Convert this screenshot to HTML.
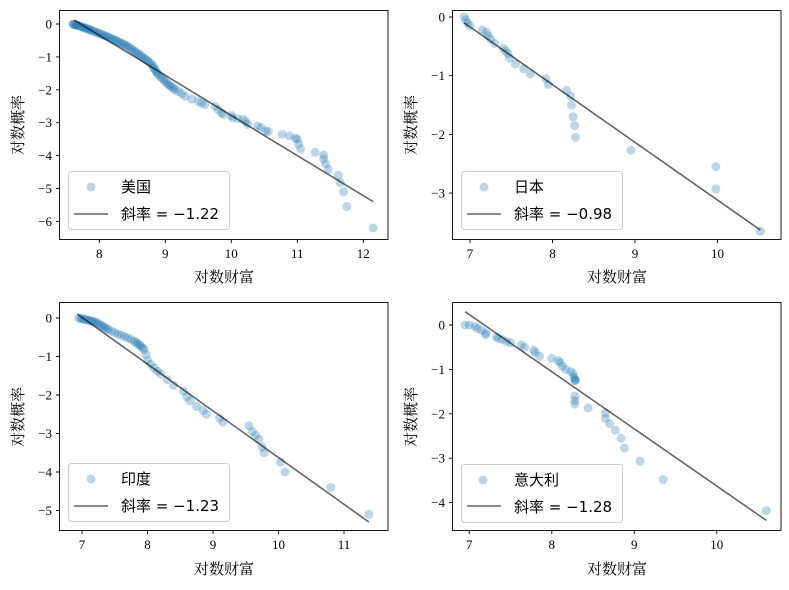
<!DOCTYPE html>
<html><head><meta charset="utf-8"><style>
body{margin:0;background:#fff;}
svg{display:block;font-family:"Liberation Serif","Noto Serif CJK SC",serif;}
.t{font-size:13px;fill:#000}
.lab{font-size:15px;fill:#000;font-family:"Liberation Serif","Noto Serif CJK SC",serif}
.lg{font-size:15px;font-family:"DejaVu Sans","Noto Sans CJK SC",sans-serif}
.p path{stroke:#1f77b4;stroke-opacity:0.3;stroke-width:9;stroke-linecap:round;fill:none;vector-effect:non-scaling-stroke}
</style></head><body>
<svg width="789" height="590" viewBox="0 0 789 590" xmlns="http://www.w3.org/2000/svg">
<rect width="789" height="590" fill="#fff"/>

<!-- TL: US -->
<g transform="matrix(66,0,0,-32.9,-428.7,24)">
<g class="p">
<path d="M7.6 0h0"/><path d="M7.61 -0.01h0"/><path d="M7.62 -0.02h0"/><path d="M7.63 -0.02h0"/><path d="M7.65 -0.03h0"/><path d="M7.66 -0.04h0"/><path d="M7.68 -0.05h0"/><path d="M7.7 -0.06h0"/><path d="M7.72 -0.08h0"/><path d="M7.74 -0.09h0"/><path d="M7.76 -0.1h0"/><path d="M7.78 -0.12h0"/><path d="M7.8 -0.13h0"/><path d="M7.82 -0.15h0"/><path d="M7.84 -0.16h0"/><path d="M7.86 -0.18h0"/><path d="M7.88 -0.19h0"/><path d="M7.9 -0.21h0"/><path d="M7.93 -0.23h0"/><path d="M7.95 -0.25h0"/><path d="M7.98 -0.27h0"/><path d="M8.0 -0.29h0"/><path d="M8.03 -0.31h0"/><path d="M8.05 -0.33h0"/><path d="M8.08 -0.35h0"/><path d="M8.1 -0.37h0"/><path d="M8.13 -0.39h0"/><path d="M8.15 -0.41h0"/><path d="M8.18 -0.44h0"/><path d="M8.2 -0.46h0"/><path d="M8.23 -0.48h0"/><path d="M8.25 -0.5h0"/><path d="M8.28 -0.53h0"/><path d="M8.3 -0.55h0"/><path d="M8.33 -0.58h0"/><path d="M8.35 -0.6h0"/><path d="M8.38 -0.63h0"/><path d="M8.4 -0.65h0"/><path d="M8.43 -0.68h0"/><path d="M8.45 -0.71h0"/><path d="M8.48 -0.75h0"/><path d="M8.5 -0.78h0"/><path d="M8.53 -0.82h0"/><path d="M8.55 -0.85h0"/><path d="M8.58 -0.89h0"/><path d="M8.6 -0.92h0"/><path d="M8.63 -0.96h0"/><path d="M8.65 -1.0h0"/><path d="M8.68 -1.04h0"/><path d="M8.7 -1.07h0"/><path d="M8.73 -1.11h0"/><path d="M8.75 -1.15h0"/><path d="M8.78 -1.2h0"/><path d="M8.8 -1.25h0"/><path d="M8.82 -1.3h0"/><path d="M8.83 -1.35h0"/><path d="M8.85 -1.4h0"/><path d="M8.86 -1.45h0"/><path d="M8.88 -1.5h0"/><path d="M8.9 -1.55h0"/><path d="M8.93 -1.6h0"/><path d="M8.95 -1.65h0"/><path d="M8.98 -1.7h0"/><path d="M9.0 -1.75h0"/><path d="M9.03 -1.8h0"/><path d="M9.05 -1.85h0"/><path d="M9.08 -1.88h0"/><path d="M9.1 -1.92h0"/><path d="M9.13 -1.96h0"/><path d="M9.15 -2.0h0"/><path d="M9.2 -2.05h0"/><path d="M9.25 -2.12h0"/><path d="M9.3 -2.2h0"/><path d="M9.4 -2.28h0"/><path d="M9.5 -2.35h0"/><path d="M9.55 -2.4h0"/><path d="M9.6 -2.45h0"/><path d="M9.75 -2.5h0"/><path d="M9.8 -2.6h0"/><path d="M9.85 -2.7h0"/><path d="M9.88 -2.75h0"/><path d="M10.0 -2.78h0"/><path d="M10.02 -2.85h0"/><path d="M10.1 -2.88h0"/><path d="M10.18 -2.9h0"/><path d="M10.22 -2.97h0"/><path d="M10.25 -3.05h0"/><path d="M10.4 -3.1h0"/><path d="M10.45 -3.15h0"/><path d="M10.52 -3.25h0"/><path d="M10.56 -3.27h0"/><path d="M10.77 -3.35h0"/><path d="M10.88 -3.4h0"/><path d="M10.97 -3.47h0"/><path d="M11.0 -3.5h0"/><path d="M11.02 -3.65h0"/><path d="M11.05 -3.8h0"/><path d="M11.27 -3.9h0"/><path d="M11.4 -3.98h0"/><path d="M11.4 -4.1h0"/><path d="M11.43 -4.25h0"/><path d="M11.47 -4.42h0"/><path d="M11.62 -4.6h0"/><path d="M11.65 -4.82h0"/><path d="M11.7 -5.1h0"/><path d="M11.75 -5.55h0"/><path d="M12.15 -6.2h0"/>
</g>
<path vector-effect="non-scaling-stroke" d="M7.62 0.12L12.15 -5.4" stroke="#000" stroke-opacity="0.6" stroke-width="1.6" fill="none"/>
</g>
<rect x="59.5" y="10.5" width="328.5" height="229" fill="none" stroke="#000" stroke-width="0.9"/>
<g stroke="#000" stroke-width="0.9">
<path d="M99.3 239.5v3.5M165.3 239.5v3.5M231.3 239.5v3.5M297.3 239.5v3.5M363.3 239.5v3.5M59.5 24h-3.5M59.5 56.9h-3.5M59.5 89.8h-3.5M59.5 122.7h-3.5M59.5 155.6h-3.5M59.5 188.5h-3.5M59.5 221.4h-3.5"/>
</g>
<g class="t" text-anchor="middle"><text x="99.3" y="258">8</text><text x="165.3" y="258">9</text><text x="231.3" y="258">10</text><text x="297.3" y="258">11</text><text x="363.3" y="258">12</text></g>
<g class="t" text-anchor="end"><text x="52" y="28.5">0</text><text x="52" y="61.4">−1</text><text x="52" y="94.3">−2</text><text x="52" y="127.2">−3</text><text x="52" y="160.1">−4</text><text x="52" y="193">−5</text><text x="52" y="225.9">−6</text></g>
<text class="lab" x="224" y="282" text-anchor="middle">对数财富</text>
<text class="lab" transform="translate(23,125) rotate(-90)" text-anchor="middle">对数概率</text>
<rect x="68.5" y="171.5" width="161" height="58" rx="3" fill="#fff" fill-opacity="0.8" stroke="#ccc"/>
<circle cx="91" cy="187" r="4.5" fill="#1f77b4" fill-opacity="0.3"/>
<text class="lg" x="121" y="192">美国</text>
<path d="M74 214h34" stroke="#000" stroke-opacity="0.6" stroke-width="1.6"/>
<text class="lg" x="121" y="219">斜率 = −1.22</text>

<!-- TR: Japan -->
<g transform="matrix(82.5,0,0,-58.7,-107.5,17)">
<g class="p">
<path d="M6.93 0h0"/><path d="M6.95 -0.05h0"/><path d="M6.97 -0.1h0"/><path d="M7.0 -0.15h0"/><path d="M7.15 -0.22h0"/><path d="M7.2 -0.26h0"/><path d="M7.22 -0.32h0"/><path d="M7.25 -0.38h0"/><path d="M7.3 -0.45h0"/><path d="M7.4 -0.53h0"/><path d="M7.43 -0.58h0"/><path d="M7.46 -0.62h0"/><path d="M7.48 -0.7h0"/><path d="M7.55 -0.8h0"/><path d="M7.65 -0.88h0"/><path d="M7.73 -0.97h0"/><path d="M7.92 -1.05h0"/><path d="M7.95 -1.15h0"/><path d="M8.17 -1.25h0"/><path d="M8.22 -1.35h0"/><path d="M8.23 -1.5h0"/><path d="M8.25 -1.7h0"/><path d="M8.27 -1.85h0"/><path d="M8.28 -2.05h0"/><path d="M8.95 -2.27h0"/><path d="M9.98 -2.55h0"/><path d="M9.98 -2.93h0"/><path d="M10.52 -3.65h0"/>
</g>
<path vector-effect="non-scaling-stroke" d="M6.93 -0.1L10.52 -3.63" stroke="#000" stroke-opacity="0.6" stroke-width="1.6" fill="none"/>
</g>
<rect x="452.5" y="10.5" width="328.5" height="229" fill="none" stroke="#000" stroke-width="0.9"/>
<g stroke="#000" stroke-width="0.9">
<path d="M470 239.5v3.5M552.5 239.5v3.5M635 239.5v3.5M717.5 239.5v3.5M452.5 17h-3.5M452.5 75.7h-3.5M452.5 134.4h-3.5M452.5 193.1h-3.5"/>
</g>
<g class="t" text-anchor="middle"><text x="470" y="258">7</text><text x="552.5" y="258">8</text><text x="635" y="258">9</text><text x="717.5" y="258">10</text></g>
<g class="t" text-anchor="end"><text x="445" y="21.5">0</text><text x="445" y="80.2">−1</text><text x="445" y="138.9">−2</text><text x="445" y="197.6">−3</text></g>
<text class="lab" x="617" y="282" text-anchor="middle">对数财富</text>
<text class="lab" transform="translate(416,125) rotate(-90)" text-anchor="middle">对数概率</text>
<rect x="461.5" y="171.5" width="161" height="58" rx="3" fill="#fff" fill-opacity="0.8" stroke="#ccc"/>
<circle cx="484" cy="187" r="4.5" fill="#1f77b4" fill-opacity="0.3"/>
<text class="lg" x="514" y="192">日本</text>
<path d="M467 214h34" stroke="#000" stroke-opacity="0.6" stroke-width="1.6"/>
<text class="lg" x="514" y="219">斜率 = −0.98</text>

<!-- BL: India -->
<g transform="matrix(65.5,0,0,-38.5,-376.5,318)">
<g class="p">
<path d="M6.95 0h0"/><path d="M6.98 -0.01h0"/><path d="M7.0 -0.02h0"/><path d="M7.03 -0.03h0"/><path d="M7.05 -0.04h0"/><path d="M7.08 -0.05h0"/><path d="M7.1 -0.06h0"/><path d="M7.13 -0.07h0"/><path d="M7.15 -0.08h0"/><path d="M7.18 -0.09h0"/><path d="M7.2 -0.1h0"/><path d="M7.23 -0.13h0"/><path d="M7.25 -0.15h0"/><path d="M7.28 -0.18h0"/><path d="M7.3 -0.2h0"/><path d="M7.33 -0.23h0"/><path d="M7.35 -0.25h0"/><path d="M7.38 -0.28h0"/><path d="M7.4 -0.3h0"/><path d="M7.45 -0.34h0"/><path d="M7.5 -0.38h0"/><path d="M7.55 -0.42h0"/><path d="M7.6 -0.45h0"/><path d="M7.65 -0.48h0"/><path d="M7.7 -0.52h0"/><path d="M7.75 -0.56h0"/><path d="M7.8 -0.6h0"/><path d="M7.83 -0.64h0"/><path d="M7.85 -0.67h0"/><path d="M7.88 -0.7h0"/><path d="M7.9 -0.74h0"/><path d="M7.93 -0.78h0"/><path d="M7.95 -0.82h0"/><path d="M7.98 -0.95h0"/><path d="M8.0 -1.1h0"/><path d="M8.05 -1.2h0"/><path d="M8.1 -1.3h0"/><path d="M8.15 -1.38h0"/><path d="M8.2 -1.45h0"/><path d="M8.3 -1.6h0"/><path d="M8.4 -1.75h0"/><path d="M8.55 -1.9h0"/><path d="M8.6 -2.05h0"/><path d="M8.65 -2.15h0"/><path d="M8.75 -2.3h0"/><path d="M8.85 -2.4h0"/><path d="M8.9 -2.5h0"/><path d="M9.1 -2.6h0"/><path d="M9.15 -2.7h0"/><path d="M9.55 -2.8h0"/><path d="M9.6 -2.95h0"/><path d="M9.65 -3.05h0"/><path d="M9.7 -3.15h0"/><path d="M9.75 -3.35h0"/><path d="M9.78 -3.5h0"/><path d="M10.03 -3.75h0"/><path d="M10.1 -4.0h0"/><path d="M10.8 -4.4h0"/><path d="M11.38 -5.1h0"/>
</g>
<path vector-effect="non-scaling-stroke" d="M6.93 0.1L11.38 -5.3" stroke="#000" stroke-opacity="0.6" stroke-width="1.6" fill="none"/>
</g>
<rect x="59.5" y="302.5" width="328.5" height="228" fill="none" stroke="#000" stroke-width="0.9"/>
<g stroke="#000" stroke-width="0.9">
<path d="M82 530.5v3.5M147.5 530.5v3.5M213 530.5v3.5M278.5 530.5v3.5M344 530.5v3.5M59.5 318h-3.5M59.5 356.5h-3.5M59.5 395h-3.5M59.5 433.5h-3.5M59.5 472h-3.5M59.5 510.5h-3.5"/>
</g>
<g class="t" text-anchor="middle"><text x="82" y="549">7</text><text x="147.5" y="549">8</text><text x="213" y="549">9</text><text x="278.5" y="549">10</text><text x="344" y="549">11</text></g>
<g class="t" text-anchor="end"><text x="52" y="322.5">0</text><text x="52" y="361">−1</text><text x="52" y="399.5">−2</text><text x="52" y="438">−3</text><text x="52" y="476.5">−4</text><text x="52" y="515">−5</text></g>
<text class="lab" x="224" y="574" text-anchor="middle">对数财富</text>
<text class="lab" transform="translate(23,417) rotate(-90)" text-anchor="middle">对数概率</text>
<rect x="68.5" y="463.5" width="161" height="58" rx="3" fill="#fff" fill-opacity="0.8" stroke="#ccc"/>
<circle cx="91" cy="479" r="4.5" fill="#1f77b4" fill-opacity="0.3"/>
<text class="lg" x="121" y="484">印度</text>
<path d="M74 506h34" stroke="#000" stroke-opacity="0.6" stroke-width="1.6"/>
<text class="lg" x="121" y="511">斜率 = −1.23</text>

<!-- BR: Italy -->
<g transform="matrix(82.5,0,0,-44.4,-108.2,325)">
<g class="p">
<path d="M6.95 0h0"/><path d="M7.0 0h0"/><path d="M7.07 -0.03h0"/><path d="M7.1 -0.08h0"/><path d="M7.15 -0.12h0"/><path d="M7.2 -0.18h0"/><path d="M7.2 -0.22h0"/><path d="M7.33 -0.27h0"/><path d="M7.35 -0.3h0"/><path d="M7.4 -0.33h0"/><path d="M7.45 -0.37h0"/><path d="M7.5 -0.4h0"/><path d="M7.63 -0.45h0"/><path d="M7.67 -0.5h0"/><path d="M7.78 -0.57h0"/><path d="M7.8 -0.62h0"/><path d="M7.85 -0.7h0"/><path d="M8.0 -0.75h0"/><path d="M8.08 -0.8h0"/><path d="M8.1 -0.85h0"/><path d="M8.13 -0.93h0"/><path d="M8.17 -1.0h0"/><path d="M8.23 -1.05h0"/><path d="M8.26 -1.1h0"/><path d="M8.27 -1.18h0"/><path d="M8.28 -1.22h0"/><path d="M8.29 -1.25h0"/><path d="M8.28 -1.25h0"/><path d="M8.28 -1.6h0"/><path d="M8.28 -1.7h0"/><path d="M8.28 -1.78h0"/><path d="M8.44 -1.87h0"/><path d="M8.65 -1.98h0"/><path d="M8.65 -2.1h0"/><path d="M8.7 -2.22h0"/><path d="M8.77 -2.37h0"/><path d="M8.84 -2.55h0"/><path d="M8.88 -2.77h0"/><path d="M9.07 -3.07h0"/><path d="M9.35 -3.48h0"/><path d="M10.6 -4.18h0"/>
</g>
<path vector-effect="non-scaling-stroke" d="M6.95 0.3L10.6 -4.4" stroke="#000" stroke-opacity="0.6" stroke-width="1.6" fill="none"/>
</g>
<rect x="452.5" y="302.5" width="328.5" height="228" fill="none" stroke="#000" stroke-width="0.9"/>
<g stroke="#000" stroke-width="0.9">
<path d="M469.3 530.5v3.5M551.8 530.5v3.5M634.3 530.5v3.5M716.8 530.5v3.5M452.5 325h-3.5M452.5 369.4h-3.5M452.5 413.8h-3.5M452.5 458.2h-3.5M452.5 502.6h-3.5"/>
</g>
<g class="t" text-anchor="middle"><text x="469.3" y="549">7</text><text x="551.8" y="549">8</text><text x="634.3" y="549">9</text><text x="716.8" y="549">10</text></g>
<g class="t" text-anchor="end"><text x="445" y="329.5">0</text><text x="445" y="373.9">−1</text><text x="445" y="418.3">−2</text><text x="445" y="462.7">−3</text><text x="445" y="507.1">−4</text></g>
<text class="lab" x="617" y="574" text-anchor="middle">对数财富</text>
<text class="lab" transform="translate(416,417) rotate(-90)" text-anchor="middle">对数概率</text>
<rect x="461.5" y="464.5" width="161" height="58" rx="3" fill="#fff" fill-opacity="0.8" stroke="#ccc"/>
<circle cx="483" cy="480" r="4.5" fill="#1f77b4" fill-opacity="0.3"/>
<text class="lg" x="514" y="485">意大利</text>
<path d="M467 506h34" stroke="#000" stroke-opacity="0.6" stroke-width="1.6"/>
<text class="lg" x="514" y="512">斜率 = −1.28</text>
</svg>
</body></html>
